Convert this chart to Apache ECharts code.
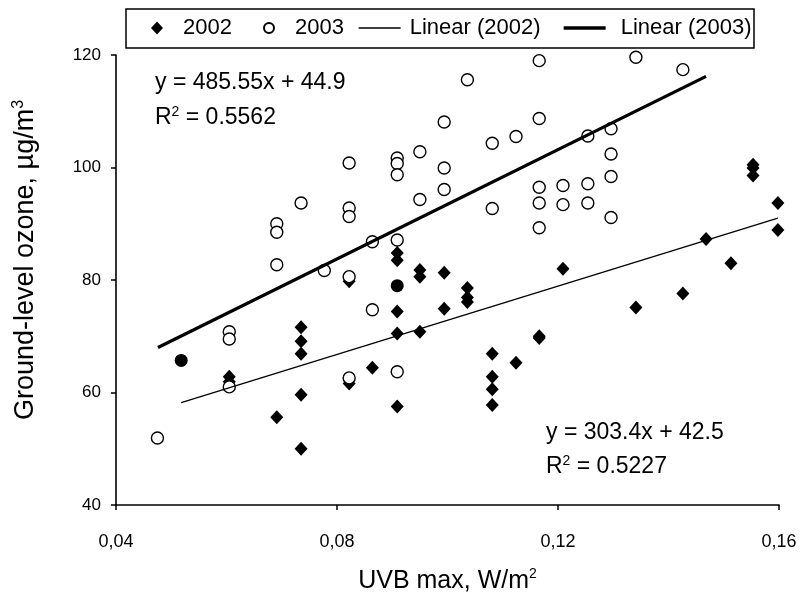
<!DOCTYPE html>
<html>
<head>
<meta charset="utf-8">
<script src="https://cdn.jsdelivr.net/npm/echarts@6/dist/echarts.min.js"></script>
<style>html,body{margin:0;padding:0;background:#fff}#c{width:800px;height:596px}</style>
</head>
<body>
<div id="c"></div>
<script>
// ---- data ----
var xTicks = [0.04, 0.08, 0.12, 0.16];
var yTicks = [40, 60, 80, 100, 120];

var data2002 = [
  [0.0605, 62.8], [0.0605, 61.9],
  [0.0691, 55.6],
  [0.0735, 71.6], [0.0735, 69.1], [0.0735, 66.9], [0.0735, 59.6], [0.0735, 50.0],
  [0.0822, 79.8], [0.0822, 61.6],
  [0.0864, 64.4],
  [0.0909, 84.8], [0.0909, 83.5], [0.0909, 74.4], [0.0909, 70.5], [0.0909, 57.5],
  [0.0950, 81.8], [0.0950, 80.6], [0.0950, 70.8],
  [0.0994, 81.3], [0.0994, 74.9],
  [0.1036, 78.6], [0.1036, 76.9], [0.1036, 76.1],
  [0.1081, 66.9], [0.1081, 62.8], [0.1081, 60.6], [0.1081, 57.8],
  [0.1124, 65.3],
  [0.1166, 70.0], [0.1166, 69.7],
  [0.1209, 82.0],
  [0.1341, 75.1],
  [0.1426, 77.6],
  [0.1468, 87.3],
  [0.1513, 83.0],
  [0.1553, 100.5], [0.1553, 99.9], [0.1553, 98.6],
  [0.1598, 93.7], [0.1598, 88.9]
];

var data2003 = [
  [0.0475, 51.9],
  [0.0605, 70.8], [0.0605, 69.5], [0.0605, 61.0],
  [0.0691, 90.0], [0.0691, 88.5], [0.0691, 82.7],
  [0.0735, 93.7],
  [0.0777, 81.7],
  [0.0822, 100.8], [0.0822, 92.8], [0.0822, 91.3], [0.0822, 80.6], [0.0822, 62.6],
  [0.0864, 86.8], [0.0864, 74.7],
  [0.0909, 101.7], [0.0909, 100.7], [0.0909, 98.7], [0.0909, 87.1], [0.0909, 63.7],
  [0.0950, 102.8], [0.0950, 94.3],
  [0.0994, 108.1], [0.0994, 99.9], [0.0994, 96.1],
  [0.1036, 115.6],
  [0.1081, 104.3], [0.1081, 92.7],
  [0.1124, 105.5],
  [0.1166, 119.0], [0.1166, 108.7], [0.1166, 96.5], [0.1166, 93.7], [0.1166, 89.3],
  [0.1209, 96.8], [0.1209, 93.4],
  [0.1254, 105.6], [0.1254, 97.1], [0.1254, 93.7],
  [0.1296, 106.9], [0.1296, 102.4], [0.1296, 98.4], [0.1296, 91.1],
  [0.1341, 119.6],
  [0.1426, 117.4]
];

// points drawn as filled circles (overlapping 2002/2003 markers)
var dataOverlap = [[0.0518, 65.7], [0.0909, 79.0]];

// trend line end points (Linear fits as shown in the figure)
var trend2002 = [[0.0518, 58.2], [0.1598, 91.0]];
var trend2003 = [[0.0476, 68.0], [0.1468, 116.2]];

var legendNames = ['2002', '2003', 'Linear (2002)', 'Linear (2003)'];
var eq2002 = ['y = 303.4x + 42.5', '0.5227'];
var eq2003 = ['y = 485.55x + 44.9', '0.5562'];

var FONT = '"Liberation Sans", Arial, sans-serif';

var chart = echarts.init(document.getElementById('c'), null, {renderer: 'canvas'});

var supRich = {
  b: {fontSize: 23, fontFamily: FONT, color: '#000', lineHeight: 26},
  s: {fontSize: 14, fontFamily: FONT, color: '#000', lineHeight: 14, verticalAlign: 'top'}
};

// legend layout (one legend component per entry, framed by one box)
var legendLefts = [151, 263, 358, 562];
var legendIconW = [12, 10, 42, 42];
var legendIconH = [13, 10, 12, 12];
var legendPadLeft = [15, 16, 4, 10];
var legendLineW = [0, 0, 1.3, 3.3];
var hideSym = {color: 'rgba(0,0,0,0)', borderColor: 'rgba(0,0,0,0)', borderWidth: 0, opacity: 0};

var legends = legendNames.map(function (n, i) {
  var item = {name: n};
  if (i >= 2) {
    item.itemStyle = hideSym;
    item.lineStyle = {width: legendLineW[i], color: '#000'};
  }
  return {
    left: legendLefts[i], top: 17,
    data: [item],
    itemWidth: legendIconW[i], itemHeight: legendIconH[i], itemGap: 0,
    padding: 0,
    textStyle: {fontSize: 22, fontFamily: FONT, color: '#000', lineHeight: 22,
      padding: [0, 0, 0, legendPadLeft[i]]},
    selectedMode: false
  };
});

chart.setOption({
  animation: false,
  backgroundColor: '#fff',
  textStyle: {fontFamily: FONT},
  grid: {left: 116, right: 21, top: 55, bottom: 91, containLabel: false, outerBoundsMode: 'none'},
  legend: legends,
  xAxis: {
    type: 'value',
    min: xTicks[0], max: xTicks[xTicks.length - 1], interval: 0.04,
    name: 'UVB max, W/m{s|2}',
    nameLocation: 'middle', nameGap: 62,
    nameTextStyle: {fontSize: 25, fontFamily: FONT, color: '#000', lineHeight: 28,
      rich: {s: {fontSize: 14, fontFamily: FONT, color: '#000', lineHeight: 14, verticalAlign: 'top'}}},
    axisLine: {lineStyle: {color: '#000', width: 1.6}},
    axisTick: {show: true, inside: false, length: 5, lineStyle: {color: '#000', width: 1.5}},
    axisLabel: {fontSize: 18, color: '#000', margin: 28, fontFamily: FONT,
      formatter: function (v) { return v.toFixed(2).replace('.', ','); }},
    splitLine: {show: false}
  },
  yAxis: {
    type: 'value',
    min: yTicks[0], max: yTicks[yTicks.length - 1], interval: 20,
    name: 'Ground-level ozone, µg/m{s|3}',
    nameLocation: 'middle', nameGap: 75, nameRotate: 90,
    nameTextStyle: {fontSize: 27, fontFamily: FONT, color: '#000', lineHeight: 30,
      padding: [0, 0, 0, 40],
      rich: {s: {fontSize: 16, fontFamily: FONT, color: '#000', lineHeight: 14, verticalAlign: 'top'}}},
    axisLine: {show: true, lineStyle: {color: '#000', width: 1.6}},
    axisTick: {show: true, inside: false, length: 5, lineStyle: {color: '#000', width: 1.5}},
    axisLabel: {fontSize: 17, color: '#000', margin: 15, fontFamily: FONT},
    splitLine: {show: false}
  },
  series: [
    {
      name: legendNames[0], type: 'scatter', data: data2002,
      symbol: 'diamond', symbolSize: [13, 14],
      itemStyle: {color: '#000', opacity: 1},
      emphasis: {disabled: true}, z: 2
    },
    {
      name: legendNames[1], type: 'scatter', data: data2003,
      symbol: 'circle', symbolSize: 12,
      itemStyle: {color: '#fff', borderColor: '#000', borderWidth: 1.4, opacity: 1},
      emphasis: {disabled: true}, z: 3
    },
    {
      name: legendNames[2], type: 'line', data: trend2002,
      symbol: 'none', lineStyle: {color: '#000', width: 1.3},
      itemStyle: {color: '#000'},
      emphasis: {disabled: true}, z: 4
    },
    {
      name: legendNames[3], type: 'line', data: trend2003,
      symbol: 'none', lineStyle: {color: '#000', width: 3.3},
      itemStyle: {color: '#000'},
      emphasis: {disabled: true}, z: 4
    },
    {
      name: 'overlap', type: 'scatter', data: dataOverlap,
      symbol: 'circle', symbolSize: 13,
      itemStyle: {color: '#000', opacity: 1},
      emphasis: {disabled: true}, z: 5
    }
  ],
  graphic: [
    {type: 'rect', silent: true, z: 10,
      shape: {x: 126, y: 9, width: 628, height: 39},
      style: {fill: 'none', stroke: '#000', lineWidth: 1.5}},
    {type: 'text', x: 155, y: 83, silent: true,
      style: {text: eq2003[0], fontSize: 23, fontFamily: FONT, fill: '#000', verticalAlign: 'middle'}},
    {type: 'text', x: 155, y: 118, silent: true,
      style: {text: '{b|R}{s|2}{b| = ' + eq2003[1] + '}', rich: supRich, verticalAlign: 'middle'}},
    {type: 'text', x: 546, y: 433, silent: true,
      style: {text: eq2002[0], fontSize: 23, fontFamily: FONT, fill: '#000', verticalAlign: 'middle'}},
    {type: 'text', x: 546, y: 467, silent: true,
      style: {text: '{b|R}{s|2}{b| = ' + eq2002[1] + '}', rich: supRich, verticalAlign: 'middle'}}
  ]
});
</script>
</body>
</html>
